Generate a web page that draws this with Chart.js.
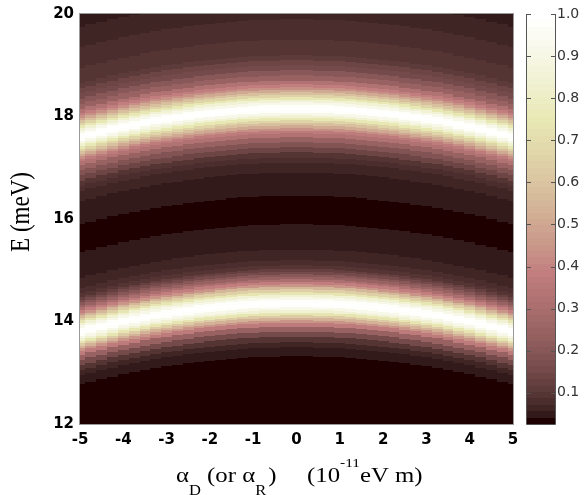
<!DOCTYPE html>
<html><head><meta charset="utf-8">
<script src="https://cdn.jsdelivr.net/npm/chart.js@4.4.1/dist/chart.umd.min.js"></script>
<style>html,body{margin:0;padding:0;background:#fff}#wrap{width:585px;height:495px;position:relative}</style>
</head><body><div id="wrap"><canvas id="c" width="585" height="495"></canvas></div>
<script>
// ---- tick labels ----
const xTickValues = [-5,-4,-3,-2,-1,0,1,2,3,4,5];
const yTickValues = [12,14,16,18,20];
const colorbarTicks = [0.1,0.2,0.3,0.4,0.5,0.6,0.7,0.8,0.9,1.0];
const colorMin = 0.026, colorMax = 1.0;

// ---- columns (alpha, 1e-11 eV m) and the energy of the upper bright ridge read in each column ----
const alphaColumns = [-5,-4.75,-4.5,-4.25,-4,-3.75,-3.5,-3.25,-3,-2.75,-2.5,-2.25,-2,-1.75,-1.5,-1.25,-1,-0.75,-0.5,-0.25,0,
  0.25,0.5,0.75,1,1.25,1.5,1.75,2,2.25,2.5,2.75,3,3.25,3.5,3.75,4,4.25,4.5,4.75,5];
const ridgeEnergy = [17.60,17.65,17.70,17.75,17.80,17.84,17.88,17.92,17.95,17.98,18.01,18.04,18.06,18.08,18.10,18.12,18.13,18.14,18.14,18.15,18.15,
  18.15,18.14,18.14,18.13,18.12,18.10,18.08,18.06,18.04,18.01,17.98,17.95,17.92,17.88,17.84,17.80,17.75,17.70,17.65,17.60];

// ---- intensity profile read along the centre column (alpha = 0), energy in meV ----
const profileRidge = 18.15;
const profileEnergy = [20.6,20.4,20.2,20.0,19.8,19.6,19.4,19.25,19.15,19.05,18.95,18.85,18.75,18.65,18.6,18.55,18.5,18.45,18.4,18.35,18.3,18.25,18.2,18.15,
  18.1,18.05,18.0,17.95,17.9,17.85,17.8,17.75,17.7,17.65,17.55,17.45,17.35,17.25,17.15,17.05,16.95,16.85,16.7,16.5,16.4,16.3,16.2,16.1,
  16.05,15.95,15.85,15.75,15.65,15.55,15.45,15.35,15.25,15.15,15.05,15.0,14.95,14.9,14.85,14.8,14.75,14.7,14.65,14.6,14.55,14.5,14.45,14.4,14.35,
  14.3,14.25,14.2,14.15,14.1,14.05,14.0,13.95,13.85,13.75,13.65,13.55,13.45,13.35,13.3,13.25,13.15,13.0,12.5,12.0,11.4];
const profileIntensity = [0.047,0.052,0.058,0.065,0.072,0.08,0.09,0.10,0.115,0.135,0.16,0.20,0.25,0.33,0.38,0.43,0.50,0.58,0.66,0.75,0.845,0.92,0.98,1.0,
  0.98,0.92,0.845,0.75,0.66,0.58,0.50,0.43,0.37,0.32,0.24,0.18,0.135,0.10,0.078,0.066,0.06,0.055,0.05,0.045,0.041,0.036,0.031,0.028,
  0.028,0.035,0.042,0.046,0.049,0.052,0.055,0.062,0.068,0.075,0.10,0.12,0.15,0.20,0.25,0.31,0.38,0.45,0.55,0.64,0.74,0.84,0.92,0.98,1.0,
  0.98,0.92,0.84,0.74,0.63,0.53,0.45,0.37,0.24,0.15,0.095,0.065,0.05,0.043,0.04,0.032,0.027,0.026,0.026,0.026,0.026];

// ---- MATLAB-like "pink" colormap, 64 levels ----
function pinkLevel(i){
  const hr = i < 24 ? (i+1)/24 : 1;
  const hg = i < 24 ? 0 : (i < 48 ? (i-23)/24 : 1);
  const hb = i < 48 ? 0 : (i-47)/16;
  const g = i/63;
  const r = Math.sqrt((2*g+hr)/3), gg = Math.sqrt((2*g+hg)/3), b = Math.sqrt((2*g+hb)/3);
  return 'rgb(' + Math.round(r*255) + ',' + Math.round(gg*255) + ',' + Math.round(b*255) + ')';
}
const pinkMap = Array.from({length:64}, (_, i) => pinkLevel(i));
function colorFor(v){
  let idx = Math.floor((v - colorMin) / (colorMax - colorMin) * 64);
  if (idx < 0) idx = 0; if (idx > 63) idx = 63;
  return pinkMap[idx];
}

const SERIF = '"Liberation Serif", "Times New Roman", serif';
const STRETCH = 1.18;
function drawStretched(ctx, text, x, y, size){
  ctx.save();
  ctx.font = size + 'px ' + SERIF;
  ctx.translate(x, y); ctx.scale(STRETCH, 1);
  ctx.fillText(text, 0, 0);
  const w = ctx.measureText(text).width * STRETCH;
  ctx.restore();
  return w;
}

const heatPlugin = {
  id: 'heat',
  beforeDatasetsDraw(chart){
    const {ctx, chartArea: a, scales: {x, y}} = chart;
    ctx.save();
    ctx.beginPath(); ctx.rect(a.left, a.top, a.right - a.left, a.bottom - a.top); ctx.clip();
    const nc = alphaColumns.length, nr = profileEnergy.length;
    for (let k = 0; k < nc; k++){
      const xl = k === 0 ? alphaColumns[0] - (alphaColumns[1]-alphaColumns[0])/2 : (alphaColumns[k-1]+alphaColumns[k])/2;
      const xr = k === nc-1 ? alphaColumns[k] + (alphaColumns[k]-alphaColumns[k-1])/2 : (alphaColumns[k]+alphaColumns[k+1])/2;
      const px0 = Math.round(x.getPixelForValue(xl)), px1 = Math.round(x.getPixelForValue(xr));
      const shift = profileRidge - ridgeEnergy[k];
      for (let j = 0; j < nr; j++){
        const eTop = j === 0 ? profileEnergy[0] + (profileEnergy[0]-profileEnergy[1])/2 : (profileEnergy[j-1]+profileEnergy[j])/2;
        const eBot = j === nr-1 ? profileEnergy[j] - (profileEnergy[j-1]-profileEnergy[j])/2 : (profileEnergy[j]+profileEnergy[j+1])/2;
        const py0 = Math.round(y.getPixelForValue(eTop - shift)), py1 = Math.round(y.getPixelForValue(eBot - shift));
        ctx.fillStyle = colorFor(profileIntensity[j]);
        ctx.fillRect(px0, py0, px1 - px0, py1 - py0);
      }
    }
    ctx.restore();
  },
  afterDatasetsDraw(chart){
    const {ctx, chartArea: a} = chart;
    ctx.save();
    ctx.strokeStyle = '#9a9a9a'; ctx.lineWidth = 1;
    ctx.strokeRect(a.left - 0.5, a.top - 0.5, a.right - a.left + 1, a.bottom - a.top + 1);
    ctx.restore();
  },
  afterDraw(chart){
    const {ctx} = chart;
    const cb = chart.scales.cb;
    const x0 = cb.left + 14, x1 = cb.left + 42;
    ctx.save();
    for (let i = 0; i < 64; i++){
      const v0 = colorMin + i/64*(colorMax-colorMin), v1 = colorMin + (i+1)/64*(colorMax-colorMin);
      const p0 = Math.round(cb.getPixelForValue(v1)), p1 = Math.round(cb.getPixelForValue(v0));
      ctx.fillStyle = pinkMap[i];
      ctx.fillRect(x0, p0, x1 - x0, p1 - p0);
    }
    const top = Math.round(cb.getPixelForValue(colorMax)), bot = Math.round(cb.getPixelForValue(colorMin));
    ctx.strokeStyle = '#555'; ctx.lineWidth = 1;
    ctx.beginPath();
    ctx.moveTo(x0 - 0.5, top); ctx.lineTo(x0 - 0.5, bot + 0.5);
    ctx.moveTo(x1 + 0.5, top); ctx.lineTo(x1 + 0.5, bot + 0.5);
    ctx.moveTo(x0 - 0.5, bot + 0.5); ctx.lineTo(x1 + 0.5, bot + 0.5);
    colorbarTicks.forEach(v => {
      const p = Math.round(cb.getPixelForValue(v)) + 0.5;
      ctx.moveTo(x0, p); ctx.lineTo(x0 + 4, p);
      ctx.moveTo(x1 + 0.5, p); ctx.lineTo(x1 - 4, p);
    });
    ctx.stroke();

    // y title (rotated, glyphs widened like the reference)
    ctx.fillStyle = '#000';
    ctx.save();
    ctx.font = '23px ' + SERIF;
    ctx.translate(29, 212); ctx.rotate(-Math.PI/2); ctx.scale(1, STRETCH);
    ctx.textAlign = 'center'; ctx.textBaseline = 'alphabetic';
    ctx.fillText('E (meV)', 0, 0);
    ctx.restore();

    // x title with sub/superscripts
    ctx.textAlign = 'left'; ctx.textBaseline = 'alphabetic';
    const base = 482, main = 21, small = 14;
    let cx = 176;
    cx += drawStretched(ctx, '\u03B1', cx, base, main);
    cx += drawStretched(ctx, 'D', cx, base + 13, small);
    cx += drawStretched(ctx, ' (or ', cx, base, main);
    cx += drawStretched(ctx, '\u03B1', cx, base, main);
    cx += drawStretched(ctx, 'R', cx, base + 13, small);
    cx += drawStretched(ctx, ')', cx + 2, base, main);
    cx = 307;
    cx += drawStretched(ctx, '(10', cx, base, main);
    cx += drawStretched(ctx, '-11', cx, base - 15, 13);
    drawStretched(ctx, 'eV m)', cx, base, main);
    ctx.restore();
  }
};

const tickFont = {family: '"DejaVu Sans", "Liberation Sans", Arial, sans-serif', size: 15, weight: 'bold'};
new Chart(document.getElementById('c'), {
  type: 'scatter',
  data: { datasets: [] },
  options: {
    responsive: false, animation: false, devicePixelRatio: 1,
    layout: { padding: { top: 14, left: 0, right: 0, bottom: 0 } },
    plugins: { legend: {display: false}, tooltip: {enabled: false} },
    scales: {
      x: {
        type: 'linear', min: -5, max: 5,
        grid: {display: false, drawTicks: false}, border: {display: false},
        ticks: {font: tickFont, color: '#000', padding: 7, autoSkip: false, maxRotation: 0},
        afterBuildTicks: s => { s.ticks = xTickValues.map(v => ({value: v})); },
        afterFit: s => { s.height = 71; }
      },
      y: {
        type: 'linear', min: 12, max: 20,
        grid: {display: true, drawOnChartArea: false, drawTicks: true, tickLength: 6, color: 'rgba(0,0,0,0)'},
        border: {display: false},
        ticks: {font: tickFont, color: '#000', padding: 0},
        afterBuildTicks: s => { s.ticks = yTickValues.map(v => ({value: v})); },
        afterFit: s => { s.width = 80; }
      },
      cb: {
        type: 'linear', position: 'right', axis: 'y', min: colorMin, max: colorMax,
        grid: {display: true, drawOnChartArea: false, drawTicks: true, tickLength: 44, color: 'rgba(0,0,0,0)'},
        border: {display: false},
        ticks: {font: {family: '"DejaVu Sans", "Liberation Sans", Arial, sans-serif', size: 14}, color: '#333', padding: 0,
                callback: v => v.toFixed(1)},
        afterBuildTicks: s => { s.ticks = colorbarTicks.map(v => ({value: v})); },
        afterFit: s => { s.width = 72; }
      }
    }
  },
  plugins: [heatPlugin]
});
</script>
</body></html>
